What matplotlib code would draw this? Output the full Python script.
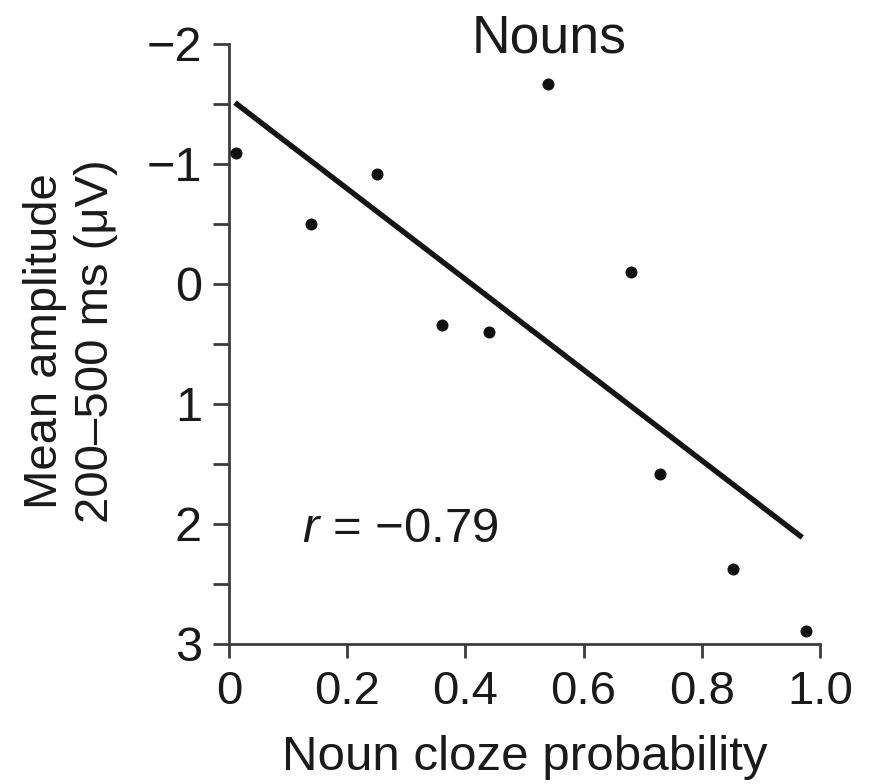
import numpy as np
import matplotlib
matplotlib.use("Agg")
from matplotlib import pyplot as plt
from matplotlib.ticker import MultipleLocator

plt.rcParams['font.family'] = ['Liberation Sans', 'DejaVu Sans']
plt.rcParams['mathtext.fontset'] = 'custom'
plt.rcParams['mathtext.it'] = 'Liberation Sans:italic'
plt.rcParams['mathtext.rm'] = 'Liberation Sans'

# values
cloze = [0.012, 0.139, 0.25, 0.36, 0.44, 0.54, 0.681, 0.73, 0.853, 0.976]
amplitude = [-1.09, -0.5, -0.917, 0.34, 0.40, -1.67, -0.097, 1.58, 2.375, 2.89]
fit_range = [0.01, 0.97]
x_ticks = [0, 0.2, 0.4, 0.6, 0.8, 1.0]
x_labels = ['0', '0.2', '0.4', '0.6', '0.8', '1.0']
y_ticks = [-2, -1, 0, 1, 2, 3]

fig = plt.figure(figsize=(8.78, 7.84), dpi=100)
ax = fig.add_axes([0.2608, 0.1786, 0.6731, 0.7653])

ax.scatter(cloze, amplitude, s=75, c='#111111', linewidths=0, zorder=3)

# regression line
slope, icpt = np.polyfit(cloze, amplitude, 1)
fx = np.array(fit_range)
ax.plot(fx, slope * fx + icpt, color='#151515', lw=3.9, solid_capstyle='butt')

ax.set_xlim(0, 1.0)
ax.set_ylim(3, -2)
ax.set_xticks(x_ticks)
ax.set_xticklabels(x_labels)
ax.set_yticks(y_ticks)
ax.yaxis.set_minor_locator(MultipleLocator(0.5))

for s in ['top', 'right']:
    ax.spines[s].set_visible(False)
for s in ['left', 'bottom']:
    ax.spines[s].set_linewidth(2.0)
    ax.spines[s].set_color('#3c3c3c')

ax.tick_params(axis='both', which='both', direction='out', width=2.0,
               color='#3c3c3c', labelcolor='#1a1a1a')
ax.tick_params(axis='y', which='both', length=11.5, pad=8, labelsize=35)
ax.tick_params(axis='x', which='major', length=10, pad=9, labelsize=34)

ax.set_xlabel('Noun cloze probability', fontsize=35.5, color='#1a1a1a', labelpad=15)
fig.text(0.080, 0.565, 'Mean amplitude\n200–500 ms (μV)', rotation=90,
         ha='center', va='center', fontsize=34, color='#1a1a1a',
         linespacing=1.2, multialignment='center')

ax.text(0.541, -1.925, 'Nouns', ha='center', va='baseline', fontsize=38.5,
        color='#1a1a1a')
ax.text(0.123, 2.05, r'$r$ = −0.79', ha='left', va='center',
        fontsize=35.5, color='#1a1a1a')

fig.savefig('out.png', dpi=100)
